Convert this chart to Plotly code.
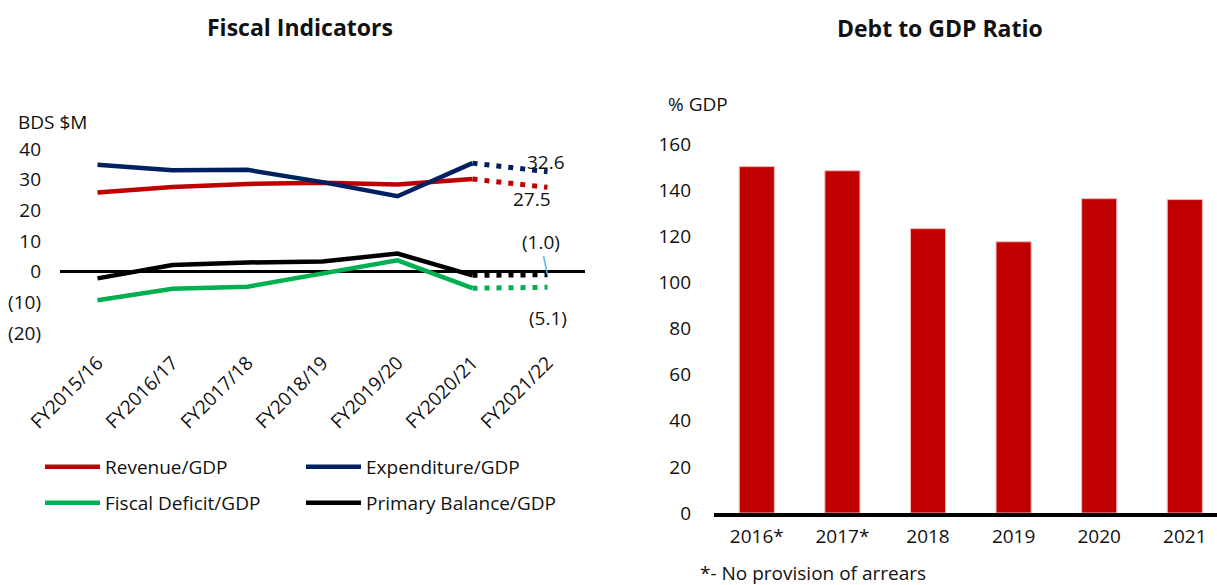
import plotly.graph_objects as go

# ---------------- data ----------------
fy_cats = ["FY2015/16", "FY2016/17", "FY2017/18", "FY2018/19", "FY2019/20", "FY2020/21", "FY2021/22"]
revenue = [25.8, 27.6, 28.6, 29.0, 28.4, 30.2, 27.5]
expenditure = [34.9, 33.1, 33.2, 29.2, 24.6, 35.4, 32.6]
fiscal_deficit = [-9.3, -5.6, -4.9, -0.6, 3.7, -5.4, -5.1]
primary_balance = [-2.2, 2.2, 3.0, 3.3, 5.9, -1.2, -1.0]

left_tickvals = [-20, -10, 0, 10, 20, 30, 40]
left_ticktext = ["(20)", "(10)", "0", "10", "20", "30", "40"]

debt_years = ["2016*", "2017*", "2018", "2019", "2020", "2021"]
debt_ratio = [150.2, 148.4, 123.3, 117.6, 136.3, 135.9]

# ---------------- style ----------------
W, H = 1217, 585
FONT = "Open Sans"
FS = 19
RED = "#C00000"
BLUE = "#002060"
GREEN = "#00B050"
BLACK = "#000000"

def px_x(p):
    return p / W

def px_y(p):
    return 1 - p / H

fig = go.Figure()

series = [
    ("Revenue/GDP", revenue, RED, "legend"),
    ("Expenditure/GDP", expenditure, BLUE, "legend"),
    ("Fiscal Deficit/GDP", fiscal_deficit, GREEN, "legend2"),
    ("Primary Balance/GDP", primary_balance, BLACK, "legend2"),
]
for name, vals, col, lg in series:
    fig.add_trace(go.Scatter(
        x=fy_cats[:6], y=vals[:6], mode="lines", name=name,
        line=dict(color=col, width=4.5), legend=lg,
        xaxis="x", yaxis="y", hoverinfo="skip"))
for name, vals, col, lg in series:
    fig.add_trace(go.Scatter(
        x=fy_cats[5:], y=vals[5:], mode="lines", name=name,
        line=dict(color=col, width=5, dash="5px,7px"), showlegend=False,
        xaxis="x", yaxis="y", hoverinfo="skip"))

fig.add_trace(go.Bar(
    x=debt_years, y=debt_ratio, marker=dict(color=RED, line=dict(color="#F2B8B8", width=1)),
    showlegend=False, xaxis="x2", yaxis="y2", hoverinfo="skip"))

last = fy_cats[-1]
annotations = [
    dict(text="<b>Fiscal Indicators</b>", x=px_x(300), y=px_y(27), xref="paper", yref="paper",
         showarrow=False, font=dict(size=23), xanchor="center", yanchor="middle"),
    dict(text="<b>Debt to GDP Ratio</b>", x=px_x(940), y=px_y(28), xref="paper", yref="paper",
         showarrow=False, font=dict(size=23), xanchor="center", yanchor="middle"),
    dict(text="BDS $M", x=px_x(16), y=px_y(122), xref="paper", yref="paper",
         showarrow=False, xanchor="left", yanchor="middle"),
    dict(text="% GDP", x=px_x(666), y=px_y(104), xref="paper", yref="paper",
         showarrow=False, xanchor="left", yanchor="middle"),
    dict(text="*- No provision of arrears", x=px_x(698), y=px_y(573), xref="paper", yref="paper",
         showarrow=False, xanchor="left", yanchor="middle"),
    dict(text=f"{expenditure[-1]:.1f}", x=last, y=expenditure[-1], xref="x", yref="y",
         showarrow=False, xshift=-2, yshift=10),
    dict(text=f"{revenue[-1]:.1f}", x=last, y=revenue[-1], xref="x", yref="y",
         showarrow=False, xshift=-16, yshift=-12),
    dict(text=f"({abs(fiscal_deficit[-1]):.1f})", x=last, y=fiscal_deficit[-1], xref="x", yref="y",
         showarrow=False, xshift=0, yshift=-31),
    dict(text=f"({abs(primary_balance[-1]):.1f})", x=last, y=primary_balance[-1], xref="x", yref="y",
         showarrow=True, arrowhead=0, arrowwidth=1.5, arrowcolor="#5BB8EA", ax=-7, ay=-33,
         standoff=0),
]

fig.update_layout(
    width=W, height=H,
    margin=dict(l=0, r=0, t=0, b=0, autoexpand=False),
    paper_bgcolor="white", plot_bgcolor="white",
    font=dict(family=FONT, size=FS, color="#111111"),
    annotations=annotations,
    xaxis=dict(domain=[px_x(60), px_x(585)], range=[-0.5, 6.5], type="category",
               tickangle=-45, showgrid=False, showline=False, zeroline=False,
               ticks="", ticklabelstandoff=14, anchor="y", automargin=False),
    yaxis=dict(domain=[px_y(333), px_y(149)], range=[-20, 40], tickvals=left_tickvals,
               ticktext=left_ticktext, showgrid=False, showline=False,
               zeroline=True, zerolinecolor=BLACK, zerolinewidth=3,
               ticks="", ticklabelstandoff=18, anchor="x", automargin=False),
    xaxis2=dict(domain=[px_x(714), 1.0], range=[-0.5, 5.376], type="category",
                showgrid=False, showline=True, linecolor=BLACK, linewidth=4,
                ticks="", ticklabelstandoff=3, anchor="y2", zeroline=False, automargin=False),
    yaxis2=dict(domain=[px_y(513), px_y(144)], range=[0, 160], dtick=20,
                showgrid=False, showline=False, zeroline=False,
                ticks="", ticklabelstandoff=22, anchor="x2", automargin=False),
    bargap=0.59,
    legend=dict(orientation="h", x=px_x(40), y=px_y(467), xanchor="left", yanchor="middle",
                entrywidth=191, itemwidth=55, bgcolor="rgba(0,0,0,0)", font=dict(size=FS)),
    legend2=dict(orientation="h", x=px_x(40), y=px_y(503), xanchor="left", yanchor="middle",
                 entrywidth=191, itemwidth=55, bgcolor="rgba(0,0,0,0)", font=dict(size=FS)),
)

fig.write_html("out.html")
